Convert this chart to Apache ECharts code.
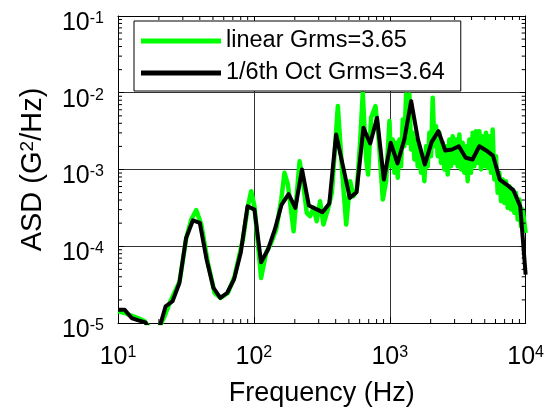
<!DOCTYPE html>
<html><head><meta charset="utf-8">
<script src="https://cdn.jsdelivr.net/npm/echarts@6/dist/echarts.min.js"></script>
<style>html,body{margin:0;padding:0;background:#fff}#c{width:547px;height:417px}</style>
</head><body><div id="c"></div>
<script>
// 1/6th octave ASD (black)
const octFreq = [10, 11.2, 12.6, 14.1, 15.9, 17.8, 20.0, 22.4, 25.2, 28.3, 31.7, 35.6, 40.0, 44.9, 50.4, 56.6, 63.5, 71.3, 80.0, 89.8,
  101, 113, 127, 143, 160, 180, 202, 226, 254, 285, 320, 359, 403, 453, 508, 570, 640, 718, 806, 905,
  1016, 1140, 1280, 1437, 1613, 1810, 2032, 2281, 2560, 2874, 3225, 3620, 4064, 4561, 5120, 5747, 6451, 7241, 8127, 9123, 10000];
const octASD = [1.49e-5, 1.49e-5, 1.16e-5, 1.08e-5, 1.02e-5, 7.4e-6, 8.2e-6, 1.65e-5, 1.92e-5, 3.32e-5, 1.28e-4, 2.18e-4, 2.02e-4, 6.7e-5, 2.86e-5, 2.12e-5, 2.46e-5, 3.67e-5, 8.2e-5, 3.32e-4,
  3.0e-4, 6.2e-5, 9.05e-5, 1.68e-4, 3.49e-4, 4.77e-4, 3.16e-4, 1.0e-3, 3.39e-4, 3.07e-4, 2.78e-4, 3.6e-4, 2.86e-3, 1.1e-3, 4.27e-4, 5.06e-4, 3.49e-3, 2.18e-3, 4.72e-3, 7.4e-4,
  2.23e-3, 1.2e-3, 2.46e-3, 7.78e-3, 2.46e-3, 1.16e-3, 2.27e-3, 3.16e-3, 1.77e-3, 1.82e-3, 2.01e-3, 1.42e-3, 1.35e-3, 2.01e-3, 1.77e-3, 1.52e-3, 7.4e-4, 6.37e-4, 5.37e-4, 3.32e-4, 4.27e-5];

// linear ASD (green)
const linFreq = [10, 11.2, 12.5, 14.0, 15.7, 17.1, 19.7, 22.0, 24.0, 28.4, 31.8, 34.6, 37.7, 41.0, 45.9, 51.4, 56.9, 64.4, 72.1, 83.0,
  90.4, 95.5, 101, 113, 123, 134, 146, 159, 168, 178, 196, 217, 232, 245, 259, 275, 290, 307, 325, 350,
  375, 415, 447, 478, 511, 541, 572, 605, 633, 670, 693, 729, 785, 830, 889, 940,
  995, 1023, 1052, 1082, 1113, 1145, 1178, 1211, 1246, 1282, 1318, 1356, 1395, 1435, 1476, 1518, 1562, 1607, 1652, 1700,
  1748, 1798, 1850, 1903, 1957, 2013, 2071, 2130, 2191, 2254, 2318, 2385, 2453, 2523, 2595, 2669, 2745, 2824, 2905, 2988,
  3073, 3161, 3252, 3345, 3441, 3539, 3641, 3745, 3852, 3962, 4076, 4193, 4313, 4436, 4563, 4694, 4828, 4967, 5109, 5255,
  5406, 5561, 5720, 5884, 6053, 6226, 6405, 6588, 6777, 6971, 7171, 7376, 7588, 7805, 8029, 8259, 8496, 8739, 8990, 9247, 9512, 10000];
const linASD = [1.42e-5, 1.35e-5, 1.25e-5, 1.16e-5, 1.05e-5, 8.6e-6, 8.2e-6, 1.22e-5, 1.82e-5, 3.49e-5, 1.28e-4, 2.23e-4, 2.95e-4, 1.92e-4, 6.07e-5, 2.46e-5, 2.12e-5, 2.46e-5, 4.06e-5, 1.22e-4,
  3.32e-4, 5.22e-4, 3.32e-4, 3.86e-5, 8.2e-5, 1.10e-4, 1.65e-4, 4.06e-4, 9.05e-4, 6.37e-4, 1.57e-4, 1.28e-3, 6.07e-4, 2.72e-4, 2.46e-4, 3.16e-4, 2.12e-4, 3.86e-4, 1.92e-4, 3.01e-4,
  4.96e-4, 6.7e-3, 9.05e-4, 1.92e-4, 7.05e-4, 4.49e-4, 5.48e-4, 2.23e-3, 1.0e-2, 1.35e-3, 8.6e-4, 4.72e-3, 6.7e-3, 2.46e-3, 4.06e-4, 7.05e-4,
  4.27e-3, 1.10e-3, 2.46e-3, 9.05e-4, 2.23e-3, 7.8e-4, 2.46e-3, 1.10e-3, 4.49e-3, 2.01e-3, 9.5e-3, 2.23e-3, 9.5e-3, 1.82e-3, 3.01e-3, 1.35e-3, 2.46e-3, 1.10e-3, 2.01e-3, 9.05e-4,
  1.49e-3, 7.05e-4, 2.01e-3, 1.10e-3, 3.01e-3, 1.49e-3, 8.6e-3, 2.01e-3, 3.67e-3, 1.49e-3, 3.01e-3, 1.22e-3, 2.23e-3, 1.00e-3, 2.01e-3, 8.6e-4, 2.46e-3, 1.10e-3, 2.72e-3, 1.22e-3,
  2.46e-3, 1.10e-3, 2.86e-3, 1.00e-3, 2.23e-3, 9.05e-4, 2.01e-3, 7.05e-4, 2.46e-3, 9.05e-4, 3.01e-3, 1.10e-3, 3.16e-3, 1.22e-3, 3.16e-3, 1.00e-3, 2.72e-3, 1.10e-3, 3.01e-3, 1.05e-3,
  2.72e-3, 9.05e-4, 3.32e-3, 7.4e-4, 1.49e-3, 4.96e-4, 9.05e-4, 3.86e-4, 7.4e-4, 3.67e-4, 7.05e-4, 3.16e-4, 6.07e-4, 3.01e-4, 5.48e-4, 2.72e-4, 4.96e-4, 2.23e-4, 4.06e-4, 1.82e-4, 3.01e-4, 1.49e-4];

// axis ticks
const xTickVals = [10, 100, 1000, 10000];
const xTickExp = ['1', '2', '3', '4'];
const yTickVals = [1e-5, 1e-4, 1e-3, 1e-2, 1e-1];
const yTickExp = ['-5', '-4', '-3', '-2', '-1'];
const xMinor = [20, 30, 40, 50, 60, 70, 80, 90, 200, 300, 400, 500, 600, 700, 800, 900, 2000, 3000, 4000, 5000, 6000, 7000, 8000, 9000];
const yMinor = [2e-5, 3e-5, 4e-5, 5e-5, 6e-5, 7e-5, 8e-5, 9e-5, 2e-4, 3e-4, 4e-4, 5e-4, 6e-4, 7e-4, 8e-4, 9e-4,
  2e-3, 3e-3, 4e-3, 5e-3, 6e-3, 7e-3, 8e-3, 9e-3, 2e-2, 3e-2, 4e-2, 5e-2, 6e-2, 7e-2, 8e-2, 9e-2];

const FONT = 'Liberation Sans, Arial, Helvetica, sans-serif';
function findIdx(arr, v) { for (let i = 0; i < arr.length; i++) if (Math.abs(v / arr[i] - 1) < 1e-6) return i; return -1; }
const labelRich = {
  b: { fontSize: 25, fontFamily: FONT, color: '#000', verticalAlign: 'bottom', lineHeight: 25 },
  s: { fontSize: 16, fontFamily: FONT, color: '#000', verticalAlign: 'top', lineHeight: 16, padding: [0, 0, 14, 0] }
};

function minorRender(dir) {
  return function (params, api) {
    const cs = params.coordSys;
    const p = api.coord([api.value(0), api.value(1)]);
    const len = 4;
    let ls;
    if (dir === 'x') ls = [[p[0], cs.y + cs.height, p[0], cs.y + cs.height - len], [p[0], cs.y, p[0], cs.y + len]];
    else ls = [[cs.x, p[1], cs.x + len, p[1]], [cs.x + cs.width, p[1], cs.x + cs.width - len, p[1]]];
    return { type: 'group', children: ls.map(l => ({ type: 'line', shape: { x1: l[0], y1: l[1], x2: l[2], y2: l[3] }, style: { stroke: '#000', lineWidth: 1 } })) };
  };
}

const chart = echarts.init(document.getElementById('c'), null, { renderer: 'canvas' });
const axisCommonX = { type: 'log', logBase: 10, min: 10, max: 10000 };
const axisCommonY = { type: 'log', logBase: 10, min: 1e-5, max: 1e-1 };
chart.setOption({
  animation: false,
  backgroundColor: '#fff',
  grid: { left: 118, right: 21, top: 16, bottom: 94, containLabel: false },
  legend: {
    orient: 'vertical', left: 134, top: 21,
    backgroundColor: '#fff', borderColor: '#000', borderWidth: 1,
    padding: [8, 16, 6, 7], itemGap: 8,
    itemWidth: 80, itemHeight: 5, icon: 'rect',
    textStyle: { fontSize: 23.5, fontFamily: FONT, color: '#000' },
    data: ['linear Grms=3.65', '1/6th Oct Grms=3.64']
  },
  xAxis: [
    Object.assign({}, axisCommonX, {
      position: 'bottom',
      name: 'Frequency (Hz)', nameLocation: 'middle', nameGap: 56,
      nameTextStyle: { fontSize: 27, fontFamily: FONT, color: '#000' },
      axisLine: { show: true, lineStyle: { color: '#000', width: 1 } },
      axisTick: { show: true, inside: true, length: 6, lineStyle: { color: '#000' } },
      axisLabel: {
        margin: 22, color: '#000',
        formatter: v => { const i = findIdx(xTickVals, v); return i < 0 ? '' : '{b|10}{s|' + xTickExp[i] + '}'; },
        rich: labelRich
      },
      splitLine: { show: true, lineStyle: { color: '#333', width: 1 } }
    }),
    Object.assign({}, axisCommonX, {
      position: 'top',
      axisLine: { show: true, lineStyle: { color: '#000', width: 1 } },
      axisTick: { show: true, inside: true, length: 6, lineStyle: { color: '#000' } },
      axisLabel: { show: false }, splitLine: { show: false }
    })
  ],
  yAxis: [
    Object.assign({}, axisCommonY, {
      position: 'left',
      name: '{a|ASD (G}{s|2}{a|/Hz)}', nameLocation: 'middle', nameGap: 65,
      nameTextStyle: {
        fontSize: 29, fontFamily: FONT, color: '#000',
        rich: {
          a: { fontSize: 29, fontFamily: FONT, color: '#000', verticalAlign: 'bottom', lineHeight: 29 },
          s: { fontSize: 19, fontFamily: FONT, color: '#000', verticalAlign: 'top', lineHeight: 19, padding: [0, 0, 14, 0] }
        }
      },
      axisLine: { show: true, lineStyle: { color: '#000', width: 1 } },
      axisTick: { show: true, inside: true, length: 6, lineStyle: { color: '#000' } },
      axisLabel: {
        margin: 14, color: '#000', padding: [14, 0, 0, 0],
        formatter: v => { const i = findIdx(yTickVals, v); return i < 0 ? '' : '{b|10}{s|' + yTickExp[i] + '}'; },
        rich: labelRich
      },
      splitLine: { show: true, lineStyle: { color: '#333', width: 1 } }
    }),
    Object.assign({}, axisCommonY, {
      position: 'right',
      axisLine: { show: true, lineStyle: { color: '#000', width: 1 } },
      axisTick: { show: true, inside: true, length: 6, lineStyle: { color: '#000' } },
      axisLabel: { show: false }, splitLine: { show: false }
    })
  ],
  series: [
    {
      name: 'linear Grms=3.65', type: 'line', xAxisIndex: 0, yAxisIndex: 0,
      data: linFreq.map((f, i) => [f, linASD[i]]),
      showSymbol: false, symbol: 'none', smooth: false,
      lineStyle: { color: '#00ff00', width: 4.5, join: 'round' }, itemStyle: { color: '#00ff00' },
      clip: true, z: 2
    },
    {
      name: '1/6th Oct Grms=3.64', type: 'line', xAxisIndex: 0, yAxisIndex: 0,
      data: octFreq.map((f, i) => [f, octASD[i]]),
      showSymbol: false, symbol: 'none', smooth: false,
      lineStyle: { color: '#000', width: 4, join: 'round' }, itemStyle: { color: '#000' },
      clip: true, z: 3
    },
    {
      name: 'xminor', type: 'custom', xAxisIndex: 0, yAxisIndex: 0,
      data: xMinor.map(f => [f, 1e-5]), renderItem: minorRender('x'), silent: true, clip: false, z: 5
    },
    {
      name: 'yminor', type: 'custom', xAxisIndex: 0, yAxisIndex: 0,
      data: yMinor.map(v => [10, v]), renderItem: minorRender('y'), silent: true, clip: false, z: 5
    }
  ]
});
</script></body></html>
